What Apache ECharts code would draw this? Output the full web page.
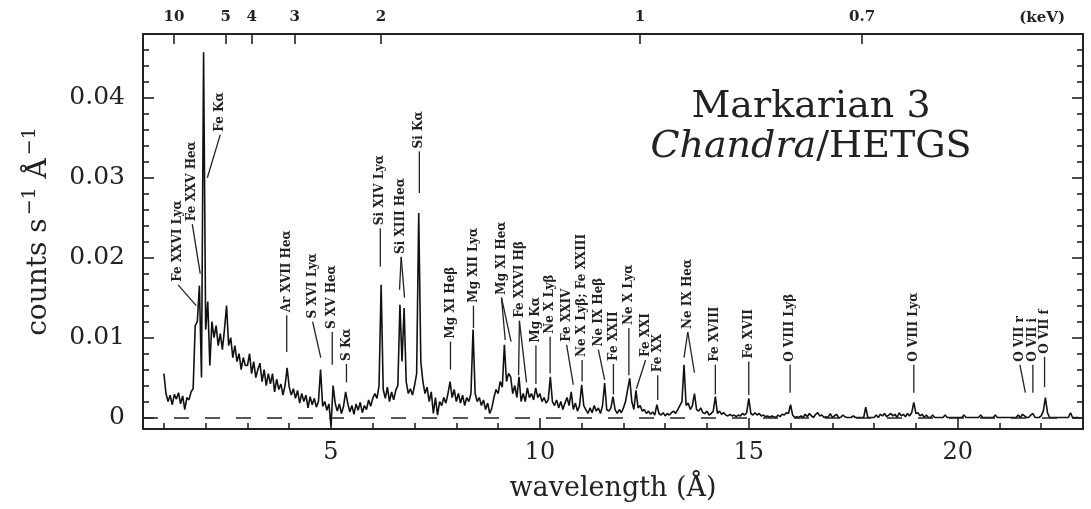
<!DOCTYPE html>
<html>
<head>
<meta charset="utf-8">
<title>Markarian 3 Chandra/HETGS</title>
<script src="https://cdn.jsdelivr.net/npm/echarts@6/dist/echarts.min.js"></script>
<style>
  html, body { margin: 0; padding: 0; background: #fff; }
  #spectrum { width: 1091px; height: 509px; }
</style>
</head>
<body>
<div id="spectrum"></div>
<script>
// spectrum bins: 0.05 A wide, first bin at 1.00 A
const binStart = 1.0;
const binWidth = 0.05;
// count rate per bin, in units of 1e-3 counts s^-1 A^-1 (one row = 1 A)
const rate = [
  5.5, 3.0, 2.0, 2.8, 1.6, 2.9, 2.3, 3.1, 1.7, 2.7, 1.0, 2.5, 2.2, 3.2, 3.6, 11.5, 12.0, 16.5, 5.0, 45.7,
  11.0, 14.5, 6.5, 12.0, 10.0, 11.5, 9.0, 10.5, 8.5, 11.0, 14.0, 9.0, 10.0, 7.5, 9.0, 7.0, 8.0, 6.0, 7.5, 6.5,
  6.5, 8.0, 5.5, 7.0, 5.0, 6.0, 6.8, 4.5, 6.0, 4.0, 5.5, 4.2, 5.5, 3.2, 4.8, 3.5, 4.2, 2.8, 4.0, 6.2,
  3.8, 2.8, 3.6, 2.4, 3.4, 1.8, 3.0, 2.0, 2.8, 1.2, 2.6, 1.6, 2.4, 1.3, 2.0, 6.0, 1.4, 2.0, 0.9, 1.7,
  -1.1, 4.0, 1.8, 0.8, 1.7, 0.5, 1.4, 3.2, 1.8, 0.7, 1.5, 0.4, 1.7, 0.9, 1.9, 0.6, 1.5, 1.0, 2.2, 1.4,
  2.4, 3.0, 2.4, 4.0, 16.6, 3.5, 2.4, 3.8, 2.0, 3.2, 2.2, 3.4, 4.0, 14.1, 7.0, 13.7, 4.5, 3.0, 3.6, 2.8,
  4.0, 5.5, 25.6, 7.0, 4.5, 3.0, 3.8, 2.0, 3.2, 0.5, 2.5, 0.3, 2.0, 1.5, 2.5, 1.8, 3.0, 4.5, 2.5, 3.5,
  2.0, 3.0, 1.8, 2.8, 1.5, 2.5, 2.0, 3.0, 11.0, 3.0, 2.0, 2.5, 1.5, 2.2, 1.0, 1.8, 0.5, 1.2, 2.5, 3.5,
  3.0, 4.5, 3.8, 9.1, 4.5, 5.5, 5.1, 3.0, 4.0, 2.5, 5.1, 2.0, 3.0, 2.0, 3.7, 2.5, 3.0, 2.2, 3.7, 2.5,
  3.0, 2.0, 2.5, 1.8, 2.2, 5.1, 2.0, 1.5, 2.2, 1.2, 2.0, 1.0, 1.8, 2.5, 1.5, 3.2, 1.0, 1.8, 0.8, 1.5,
  4.1, 1.5, 1.0, 0.5, 1.2, 0.6, 1.5, 0.8, 1.2, 0.5, 1.5, 4.3, 1.0, 0.8, 1.2, 2.6, 1.0, 0.5, 1.0, 0.6,
  1.2, 2.0, 3.5, 4.9, 2.0, 1.0, 3.4, 1.2, 1.5, 0.8, 1.0, 0.5, 0.8, 0.4, 0.7, 0.3, 1.6, 0.5, 0.3, 0.6,
  0.2, 0.5, 0.3, 0.6, 0.8, 0.5, 1.0, 1.5, 2.0, 6.6, 1.5, 1.8, 1.0, 1.5, 3.0, 1.0, 0.8, 1.2, 0.6, 0.5,
  0.8, 0.3, 0.5, 0.8, 2.6, 0.5, 0.8, 0.4, 0.6, 0.3, 0.2, 0.4, 0.2, 0.3, 0.1, 0.3, 0.2, 0.5, 0.3, 0.6,
  2.4, 0.5, 0.3, 0.6, 0.3, 0.5, 0.2, 0.3, 0.1, 0.2, 0.0, 0.2, 0.1, 0.0, 0.3, 0.1, 0.4, 0.3, 0.6, 0.5,
  1.6, 0.3, 0.0, 0.1, 0.0, 0.2, 0.0, 0.4, 0.1, 0.5, 0.2, 0.0, 0.4, 0.6, 0.2, 0.3, 0.0, 0.1, 0.0, 0.5,
  0.0, 0.2, 0.4, 0.0, 0.0, 0.3, 0.1, 0.0, 0.0, 0.0, 0.2, 0.0, 0.0, 0.0, 0.0, 0.0, 1.3, 0.0, 0.0, 0.0,
  0.0, 0.3, 0.0, 0.4, 0.2, 0.5, 0.1, 0.3, 0.5, 0.2, 0.4, 0.0, 0.6, 0.2, 0.4, 0.1, 0.5, 0.2, 0.6, 1.9,
  0.5, 0.6, 0.2, 0.4, 0.0, 0.3, 0.0, 0.0, 0.3, 0.0, 0.0, 0.0, 0.0, 0.0, 0.3, 0.0, 0.0, 0.0, 0.0, 0.0,
  0.0, 0.0, 0.0, 0.3, 0.0, 0.0, 0.0, 0.0, 0.0, 0.0, 0.0, 0.3, 0.0, 0.0, 0.0, 0.0, 0.0, 0.0, 0.3, 0.0,
  0.0, 0.0, 0.0, 0.0, 0.0, 0.0, 0.0, 0.0, 0.0, 0.3, 0.0, 0.4, 0.2, 0.0, 0.0, 0.3, 0.5, 0.0, 0.0, 0.0,
  0.2, 0.8, 2.5, 0.6, 0.0, 0.0, 0.0, 0.0, 0.0, 0.0, 0.0, 0.0, 0.0, 0.0, 0.6, 0.0, 0.0, 0.0, 0.0
];

// axis ticks
const wavelengthTicks = [5, 10, 15, 20];
const wavelengthMinorTicks = [1, 2, 3, 4, 6, 7, 8, 9, 11, 12, 13, 14, 16, 17, 18, 19, 21, 22];
const rateTicks = [0, 0.01, 0.02, 0.03, 0.04];
const rateMinorTicks = [0.002, 0.004, 0.006, 0.008, 0.012, 0.014, 0.016, 0.018, 0.022, 0.024, 0.026,
  0.028, 0.032, 0.034, 0.036, 0.038, 0.042, 0.044, 0.046];
const energyTicks = [10, 5, 4, 3, 2, 1, 0.7]; // keV
const HC = 12.398; // keV * A

// line identifications: label foot [A, 1e-3 rate] and where the leader(s) point
const lineNames = [
  'Fe XXVI Lyα', 'Fe XXV Heα', 'Fe Kα', 'Ar XVII Heα', 'S XVI Lyα', 'S XV Heα', 'S Kα',
  'Si XIV Lyα', 'Si XIII Heα', 'Si Kα', 'Mg XI Heβ', 'Mg XII Lyα', 'Mg XI Heα', 'Fe XXVI Hβ',
  'Mg Kα', 'Ne X Lyβ', 'Fe XXIV', 'Ne X Lyβ; Fe XXIII', 'Ne IX Heβ', 'Fe XXII', 'Ne X Lyα',
  'Fe XXI', 'Fe XX', 'Ne IX Heα', 'Fe XVIII', 'Fe XVII', 'O VIII Lyβ', 'O VIII Lyα',
  'O VII r', 'O VII i', 'O VII f'
];
const lineLabelAt = [
  [1.34, 16.6], [1.68, 24.2], [2.35, 35.4], [3.94, 12.8], [4.56, 12.0], [5.03, 10.7], [5.37, 6.7],
  [6.18, 23.7], [6.68, 20.1], [7.115, 33.3], [7.86, 9.5], [8.41, 14.0], [9.08, 15.0], [9.51, 12.1],
  [9.905, 9.0], [10.245, 10.1], [10.64, 9.1], [11.01, 7.2], [11.4, 8.5], [11.76, 6.7], [12.13, 11.2],
  [12.53, 7.2], [12.82, 5.3], [13.54, 10.7], [14.2, 6.6], [15.0, 7.0], [15.99, 6.6], [18.95, 6.6],
  [21.49, 6.6], [21.8, 6.6], [22.08, 7.6]
];
const lineLeaderTo = [
  [[1.775, 14.0]], [[1.87, 18.0]], [[2.04, 30.0]], [[3.94, 8.2]], [[4.755, 7.5]], [[5.03, 6.6]], [[5.37, 4.4]],
  [[6.18, 18.9]], [[6.64, 16.0], [6.76, 15.0]], [[7.115, 28.1]], [[7.86, 6.0]], [[8.41, 11.2]],
  [[9.17, 9.7], [9.31, 9.5]], [[9.49, 5.3], [9.68, 4.4]],
  [[9.905, 4.2]], [[10.245, 5.5]], [[10.8, 4.1]], [[11.01, 4.5]], [[11.55, 4.7]], [[11.76, 2.9]], [[12.13, 5.3]],
  [[12.31, 3.6]], [[12.82, 2.2]], [[13.45, 7.5], [13.7, 5.6]], [[14.2, 2.9]], [[15.0, 2.8]], [[15.99, 3.1]],
  [[18.95, 3.1]], [[21.62, 3.1]], [[21.8, 3.1]], [[22.08, 3.8]]
];

const ink = '#222';
const serif = 'DejaVu Serif';

const spectrum = rate.map((r, i) => [binStart + i * binWidth, r / 1000]);
const energyAt = energyTicks.map(e => HC / e);

const chart = echarts.init(document.getElementById('spectrum'));

const frameLine = { show: true, onZero: false, lineStyle: { color: ink, width: 2 } };

function tickAxis(position, values, length) {
  return {
    type: 'value',
    position: position,
    axisLine: { show: false, onZero: false },
    axisTick: { show: true, inside: true, length: length, customValues: values, lineStyle: { color: ink, width: 1.6 } },
    axisLabel: { show: false },
    splitLine: { show: false }
  };
}

const xMin = 0.5, xMax = 23;
const yMin = -0.00144, yMax = 0.048;

chart.setOption({
  animation: false,
  backgroundColor: '#fff',
  grid: { left: 143, right: 8, top: 34, bottom: 80, containLabel: false, outerBoundsMode: 'none' },
  xAxis: [
    {
      type: 'value', position: 'bottom', min: xMin, max: xMax,
      axisLine: frameLine,
      axisTick: { show: true, inside: true, length: 11, customValues: wavelengthTicks, lineStyle: { color: ink, width: 1.6 } },
      axisLabel: { customValues: wavelengthTicks, margin: 12, fontSize: 24, fontFamily: serif, color: ink },
      splitLine: { show: false },
      name: 'wavelength (Å)', nameLocation: 'middle', nameGap: 46,
      nameTextStyle: { fontSize: 27, fontFamily: serif, color: ink }
    },
    Object.assign(tickAxis('bottom', wavelengthMinorTicks, 6), { min: xMin, max: xMax }),
    {
      type: 'value', position: 'top', min: xMin, max: xMax,
      axisLine: frameLine,
      axisTick: { show: true, inside: true, length: 10, customValues: energyAt, lineStyle: { color: ink, width: 1.6 } },
      axisLabel: {
        customValues: energyAt, margin: 9, fontSize: 15, fontWeight: 'bold', fontFamily: serif, color: ink,
        formatter: v => String(Math.round(HC / v * 10) / 10)
      },
      splitLine: { show: false }
    }
  ],
  yAxis: [
    {
      type: 'value', position: 'left', min: yMin, max: yMax,
      axisLine: frameLine,
      axisTick: { show: true, inside: true, length: 11, customValues: rateTicks, lineStyle: { color: ink, width: 1.6 } },
      axisLabel: {
        customValues: rateTicks, margin: 18, fontSize: 25, fontFamily: serif, color: ink,
        formatter: v => (v === 0 ? '0' : v.toFixed(2))
      },
      splitLine: { show: false },
      name: '{b|counts s}{s|−1}{b| Å}{s|−1}', nameLocation: 'middle', nameRotate: 90, nameGap: 86,
      nameTextStyle: {
        rich: {
          b: { fontSize: 28, fontFamily: serif, color: ink, lineHeight: 36 },
          s: { fontSize: 19, fontFamily: serif, color: ink, lineHeight: 14, verticalAlign: 'top', padding: [0, 0, 0, 3] }
        }
      }
    },
    Object.assign(tickAxis('left', rateMinorTicks, 6), { min: yMin, max: yMax }),
    Object.assign(tickAxis('right', rateTicks, 11), { min: yMin, max: yMax, axisLine: frameLine }),
    Object.assign(tickAxis('right', rateMinorTicks, 6), { min: yMin, max: yMax })
  ],
  graphic: [
    { type: 'text', x: 811, y: 107, style: { text: 'Markarian 3', fontSize: 38, fontFamily: serif, fill: ink, align: 'center', verticalAlign: 'middle' } },
    {
      type: 'text', x: 811, y: 147,
      style: {
        text: '{it|Chandra}/HETGS', fontSize: 38, fontFamily: serif, fill: ink, align: 'center', verticalAlign: 'middle',
        rich: { it: { fontSize: 38, fontFamily: serif, fontStyle: 'italic', fill: ink } }
      }
    },
    { type: 'text', x: 1065, y: 18, style: { text: '(keV)', fontSize: 15, fontWeight: 'bold', fontFamily: serif, fill: ink, align: 'right', verticalAlign: 'middle' } }
  ],
  series: [
    {
      type: 'line', xAxisIndex: 0, yAxisIndex: 0,
      data: spectrum, showSymbol: false, symbol: 'none',
      lineStyle: { color: '#111', width: 1.6 },
      z: 3,
      markLine: {
        silent: true, symbol: 'none', label: { show: false },
        lineStyle: { type: [15, 16], color: ink, width: 1.5 },
        data: [{ yAxis: 0 }]
      }
    },
    {
      type: 'custom', xAxisIndex: 0, yAxisIndex: 0, clip: false, silent: true, z: 4,
      data: lineLabelAt.map(p => [p[0], p[1] / 1000]),
      renderItem: function (params, api) {
        const i = params.dataIndex;
        const top = api.coord([api.value(0), api.value(1)]);
        const children = [{
          type: 'text', x: top[0], y: top[1] - 3, rotation: Math.PI / 2,
          style: { text: lineNames[i], fontSize: 12, fontWeight: 'bold', fontFamily: serif, fill: ink, align: 'left', verticalAlign: 'middle' }
        }];
        lineLeaderTo[i].forEach(function (p) {
          const end = api.coord([p[0], p[1] / 1000]);
          children.push({
            type: 'line',
            shape: { x1: top[0], y1: top[1], x2: end[0], y2: end[1] },
            style: { stroke: ink, lineWidth: 1.3 }
          });
        });
        return { type: 'group', children: children };
      }
    }
  ]
});
</script>
</body>
</html>
